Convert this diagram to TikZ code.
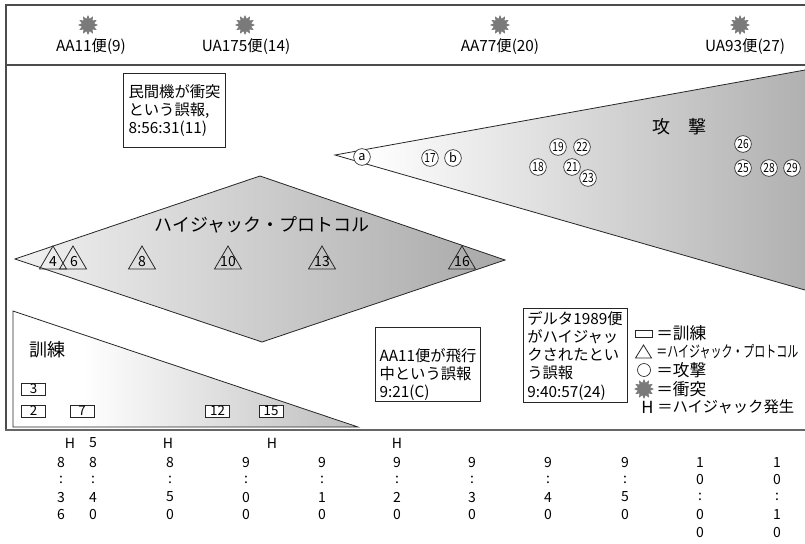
\documentclass[tikz,border=0pt]{standalone}
\usepackage{fontspec}
\setmainfont{Noto Sans CJK JP}
\usepackage{graphicx}
\usepackage{tikz}
\usetikzlibrary{shapes.geometric}

\pgfdeclarehorizontalshading{atkfade}{100bp}{color(0bp)=(white); color(28bp)=(white); color(100bp)=(black!47)}
\pgfdeclarehorizontalshading{hjfade}{100bp}{color(0bp)=(white); color(15bp)=(white); color(100bp)=(black!48)}
\pgfdeclarehorizontalshading{drillfade}{100bp}{color(0bp)=(white); color(35bp)=(white); color(100bp)=(black!42)}

\tikzset{
  frameline/.style={draw=black!70, line width=1.1pt},
  outline/.style={draw=black!85, line width=0.6pt},
  crash/.style={star, star points=12, star point ratio=1.55, fill=black!52, draw=none, minimum size=15pt, inner sep=0pt},
  flight/.style={inner sep=0pt, font=\fontsize{11.5}{13}\selectfont},
  msgbox/.style={draw=black!85, line width=0.6pt, fill=white, align=left, inner xsep=3pt, inner ysep=1pt, font=\fontsize{11.5}{13.7}\selectfont},
  attack/.style={circle, draw=black!85, line width=0.5pt, fill=white, inner sep=0pt, minimum size=12.5pt, font=\fontsize{9.5}{9.5}\selectfont},
  hjnum/.style={inner sep=0pt, font=\fontsize{10.5}{10.5}\selectfont},
  drill/.style={draw=black!85, line width=0.5pt, fill=white, minimum width=18pt, minimum height=9pt, inner sep=0pt, font=\fontsize{10}{10}\selectfont},
  bigword/.style={inner sep=0pt, font=\fontsize{13.5}{13.5}\selectfont},
  legend/.style={anchor=west, inner sep=0pt, font=\fontsize{12.5}{12.5}\selectfont},
  tick/.style={inner sep=0pt, font=\fontsize{10.5}{10.5}\selectfont},
}

\newcommand{\timecol}[3]{%
  \foreach \ch [count=\k] in {#3} \node[tick] (#1-\k) at (#2,444.5+17.5*\k) {\ch};}
\newcommand{\narrow}[1]{\scalebox{0.8}[1]{#1}}

\begin{document}
\begin{tikzpicture}[x=0.75pt,y=-0.75pt]

\path[fill=white] (0,0) rectangle (805,543);
\useasboundingbox (0,0) rectangle (805,543);

% frame
\draw[frameline] (805,5) -- (6,5) -- (6,431);
\draw[frameline] (6,65) -- (805,65);
\draw[draw=black!60, line width=2.2pt] (5,430) -- (805,430);

% crashes
\node[crash] (c11) at (88,25) {};
\node[crash] (c175) at (245,25) {};
\node[crash] (c77) at (500,25) {};
\node[crash] (c93) at (740,25) {};
\node[flight] (f11) at (91,47) {AA11便(9)};
\node[flight] (f175) at (246,47) {UA175便(14)};
\node[flight] (f77) at (500,47) {AA77便(20)};
\node[flight] (f93) at (745,47) {UA93便(27)};

% attack wedge
\shade[shading=atkfade] (335,155) -- (805,70) -- (805,290) -- cycle;
\draw[outline] (805,70) -- (335,155) -- (805,290);
\node[bigword] (atkword) at (679,127) {攻　撃};

\node[attack] (ata) at (362,157) {a};
\node[attack] (at17) at (430,158) {\narrow{17}};
\node[attack] (atb) at (453,158) {b};
\node[attack] (at19) at (558,147) {\narrow{19}};
\node[attack] (at22) at (582,147) {\narrow{22}};
\node[attack] (at18) at (538,167) {\narrow{18}};
\node[attack] (at21) at (572,167) {\narrow{21}};
\node[attack] (at23) at (588,178) {\narrow{23}};
\node[attack] (at26) at (743,144) {\narrow{26}};
\node[attack] (at25) at (743,168) {\narrow{25}};
\node[attack] (at28) at (769,168) {\narrow{28}};
\node[attack] (at29) at (792,168) {\narrow{29}};

% hijack protocol
\shade[shading=hjfade] (15,259) -- (260,176) -- (505,260) -- (262,342) -- cycle;
\draw[outline] (15,259) -- (260,176) -- (505,260) -- (262,342) -- cycle;
\node[bigword] (hjword) at (262,225) {ハイジャック・プロトコル};

\draw[outline] (39.5,269) -- (53,246) -- (66.5,269) -- cycle;
\draw[outline] (59.5,269) -- (73,246) -- (86.5,269) -- cycle;
\draw[outline] (128.5,269) -- (142,246) -- (155.5,269) -- cycle;
\draw[outline] (214.5,269) -- (228,246) -- (241.5,269) -- cycle;
\draw[outline] (308.5,269) -- (322,246) -- (335.5,269) -- cycle;
\draw[outline] (448.5,269) -- (462,246) -- (475.5,269) -- cycle;
\node[hjnum] (hj4) at (53,262) {4};
\node[hjnum] (hj6) at (74,262) {6};
\node[hjnum] (hj8) at (142,262) {8};
\node[hjnum] (hj10) at (228,262) {10};
\node[hjnum] (hj13) at (322,262) {13};
\node[hjnum] (hj16) at (462,262) {16};

% training
\shade[shading=drillfade] (13,311) -- (358,427) -- (13,427) -- cycle;
\draw[outline] (13,311) -- (358,427) -- (13,427) -- cycle;
\node[bigword] (drillword) at (47,350) {訓練};
\node[drill] (d3) at (33.5,389) {3};
\node[drill] (d2) at (33.5,411) {2};
\node[drill] (d7) at (82,411) {7};
\node[drill] (d12) at (217.5,411) {12};
\node[drill] (d15) at (271,411) {15};

% false reports
\node[msgbox, minimum width=77pt, minimum height=56pt] (msg11) at (174.5,110.5) {民間機が衝突\\という誤報,\\8:56:31(11)};
\node[msgbox, minimum width=76.5pt, minimum height=56pt] (msgc) at (428,364.5) {\strut\\AA11便が飛行\\中という誤報\\9:21(C)};
\node[msgbox, minimum width=78pt, minimum height=71pt] (msg24) at (575,355.5) {デルタ1989便\\がハイジャッ\\クされたとい\\う誤報\\9:40:57(24)};

% legend
\node[draw=black!85, line width=0.5pt, minimum width=12.75pt, minimum height=5.25pt, inner sep=0pt] (keydrill) at (644,334) {};
\draw[outline] (635.5,358) -- (643.5,345) -- (651.5,358) -- cycle;
\node[circle, draw=black!85, line width=0.5pt, minimum size=9.75pt, inner sep=0pt] (keyatk) at (644,370) {};
\node[crash] (keycrash) at (644,389) {};
\node[legend] (keyh) at (641,407) {H};
\node[legend] (txtdrill) at (656,333) {＝訓練};
\node[legend] (txthj) at (656,352) {\scalebox{0.66}[0.95]{＝ハイジャック・プロトコル}};
\node[legend] (txtatk) at (656,370) {＝攻撃};
\node[legend] (txtcrash) at (656,389) {＝衝突};
\node[legend, font=\fontsize{11.5}{11.5}\selectfont] (txth) at (657,407) {＝ハイジャック発生};

% time axis
\node[tick] (h1) at (70,443) {H};
\node[tick] (m5) at (93,443) {5};
\node[tick] (h2) at (168,443) {H};
\node[tick] (h3) at (272,443) {H};
\node[tick] (h4) at (397,443) {H};
\timecol{t0836}{61}{8,:,3,6}
\timecol{t0840}{93}{8,:,4,0}
\timecol{t0850}{170}{8,:,5,0}
\timecol{t0900}{246}{9,:,0,0}
\timecol{t0910}{322}{9,:,1,0}
\timecol{t0920}{397}{9,:,2,0}
\timecol{t0930}{472}{9,:,3,0}
\timecol{t0940}{548}{9,:,4,0}
\timecol{t0950}{625}{9,:,5,0}
\timecol{t1000}{700}{1,0,:,0,0}
\timecol{t1010}{777}{1,0,:,1,0}

\end{tikzpicture}
\end{document}
